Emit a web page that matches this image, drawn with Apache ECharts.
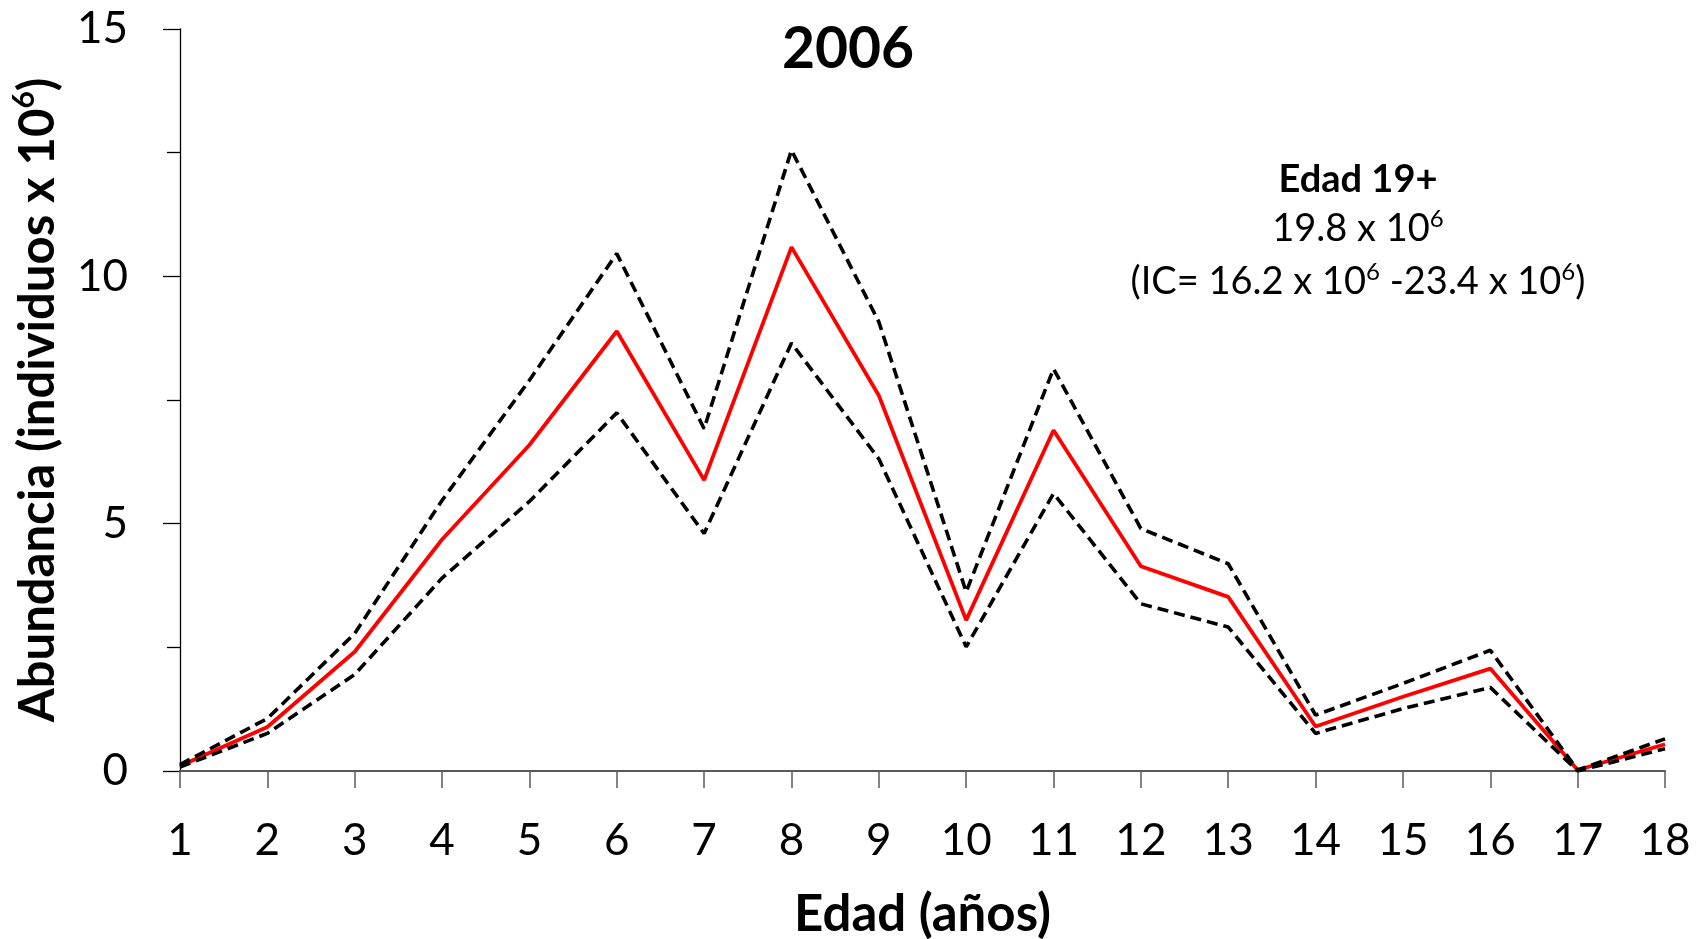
<!DOCTYPE html>
<html>
<head>
<meta charset="utf-8">
<title>Abundancia por edad 2006</title>
<script src="https://cdn.jsdelivr.net/npm/echarts@6/dist/echarts.min.js"></script>
<style>
  html, body { margin: 0; padding: 0; background: #fff; }
  #chart { width: 1698px; height: 939px; }
</style>
</head>
<body>
<div id="chart"></div>
<script>
// Ages (years) on the x axis
const ages = ['1','2','3','4','5','6','7','8','9','10','11','12','13','14','15','16','17','18'];
// Estimated abundance (millions of individuals)
const abundance = [0.10, 0.89, 2.41, 4.68, 6.59, 8.89, 5.88, 10.59, 7.59, 3.05, 6.89, 4.14, 3.52, 0.90, 1.50, 2.07, 0.02, 0.54];
// Upper and lower confidence limits
const upperCI = [0.13, 1.06, 2.78, 5.47, 7.90, 10.46, 6.92, 12.55, 9.08, 3.62, 8.13, 4.90, 4.19, 1.13, 1.77, 2.44, 0.02, 0.65];
const lowerCI = [0.08, 0.76, 1.95, 3.90, 5.45, 7.24, 4.80, 8.65, 6.31, 2.51, 5.61, 3.38, 2.91, 0.76, 1.26, 1.69, 0.00, 0.45];
// Plus-group note (age 19+)
const plusGroup = { label: 'Edad 19+', value: '19.8', low: '16.2', high: '23.4' };

const FONT = 'Lato, "Open Sans", sans-serif';

const chart = echarts.init(document.getElementById('chart'), null, { renderer: 'canvas' });

const dashed = (name, data) => ({
  name: name,
  type: 'line',
  data: data,
  symbol: 'none',
  z: 3,
  lineStyle: { color: '#000', width: 3.6, type: [11, 6] }
});

chart.setOption({
  backgroundColor: '#fff',
  animation: false,
  title: {
    text: '2006',
    left: 843,
    top: 16,
    textAlign: 'center',
    textStyle: { fontFamily: FONT, fontSize: 57, fontWeight: 'bold', color: '#000' }
  },
  grid: { left: 180, right: 33, top: 29, bottom: 168, outerBoundsMode: 'none', containLabel: false },
  xAxis: {
    type: 'category',
    data: ages,
    boundaryGap: false,
    name: 'Edad (años)',
    nameLocation: 'middle',
    nameGap: 118,
    nameTextStyle: { fontFamily: FONT, fontSize: 51, fontWeight: 'bold', color: '#000' },
    axisLine: { lineStyle: { color: '#595959', width: 2 } },
    axisTick: { show: true, interval: 0, length: 17, lineStyle: { color: '#595959', width: 1.5 } },
    axisLabel: { interval: 0, margin: 48, fontFamily: FONT, fontSize: 44, color: '#000' },
    splitLine: { show: false }
  },
  yAxis: {
    type: 'value',
    min: 0,
    max: 15,
    interval: 5,
    name: '{t|Abundancia (individuos x 10}{s|6}{t|)}',
    nameLocation: 'middle',
    nameGap: 113,
    nameTextStyle: {
      rich: {
        t: { fontFamily: FONT, fontSize: 49, fontWeight: 'bold', color: '#000', lineHeight: 58 },
        s: { fontFamily: FONT, fontSize: 30, fontWeight: 'bold', color: '#000', lineHeight: 32, verticalAlign: 'top' }
      }
    },
    axisLine: { show: true, lineStyle: { color: '#000', width: 1.3 } },
    axisTick: { show: true, length: 17, lineStyle: { color: '#000', width: 1.3 } },
    minorTick: { show: true, splitNumber: 2, length: 13, lineStyle: { color: '#000', width: 1.3 } },
    axisLabel: { margin: 52, fontFamily: FONT, fontSize: 44, color: '#000' },
    splitLine: { show: false }
  },
  series: [
    {
      name: 'Abundancia',
      type: 'line',
      data: abundance,
      symbol: 'none',
      z: 2,
      lineStyle: { color: '#ff0000', width: 3.8 }
    },
    dashed('IC superior', upperCI),
    dashed('IC inferior', lowerCI)
  ],
  graphic: [
    {
      type: 'text',
      x: 1358,
      y: 180,
      style: {
        text: plusGroup.label,
        textAlign: 'center',
        textVerticalAlign: 'middle',
        font: 'bold 38px ' + FONT,
        fill: '#000'
      }
    },
    {
      type: 'text',
      x: 1358,
      y: 229,
      style: {
        text: '{n|' + plusGroup.value + ' x 10}{s|6}',
        textAlign: 'center',
        textVerticalAlign: 'middle',
        rich: {
          n: { fontFamily: FONT, fontSize: 38, color: '#000', lineHeight: 44 },
          s: { fontFamily: FONT, fontSize: 24, color: '#000', lineHeight: 26, verticalAlign: 'top' }
        }
      }
    },
    {
      type: 'text',
      x: 1358,
      y: 282,
      style: {
        text: '{n|(IC= ' + plusGroup.low + ' x 10}{s|6}{n| -' + plusGroup.high + ' x 10}{s|6}{n|)}',
        textAlign: 'center',
        textVerticalAlign: 'middle',
        rich: {
          n: { fontFamily: FONT, fontSize: 38, color: '#000', lineHeight: 44 },
          s: { fontFamily: FONT, fontSize: 24, color: '#000', lineHeight: 26, verticalAlign: 'top' }
        }
      }
    }
  ]
});
</script>
</body>
</html>
